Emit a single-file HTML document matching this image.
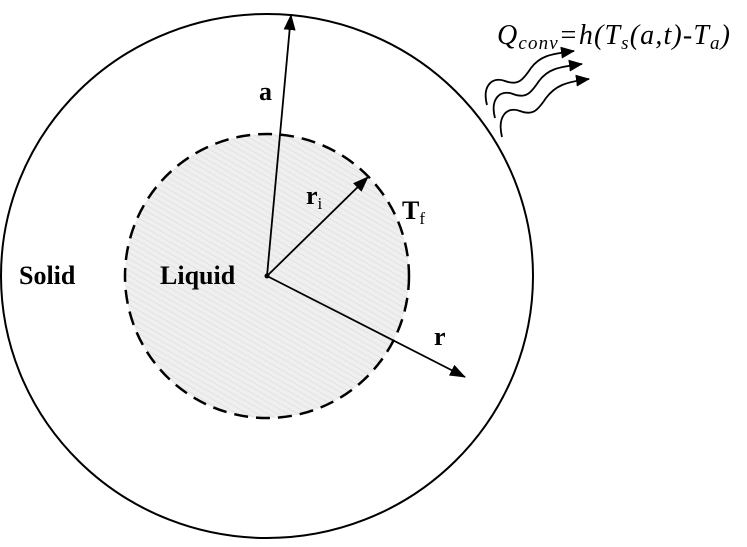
<!DOCTYPE html>
<html><head><style>
html,body{margin:0;padding:0;background:#fff;}
svg{display:block;}
</style></head><body>
<svg width="747" height="547" viewBox="0 0 747 547" xmlns="http://www.w3.org/2000/svg">
<defs>
<pattern id="hatch" width="5" height="5" patternUnits="userSpaceOnUse" patternTransform="rotate(-60)">
<rect width="5" height="5" fill="#efefef"/>
<line x1="0" y1="0" x2="0" y2="5" stroke="#dedede" stroke-width="1.5"/>
</pattern>
<marker id="ah" markerWidth="14" markerHeight="12" refX="13" refY="6" orient="auto" markerUnits="userSpaceOnUse">
<path d="M0,0 L14,6 L0,12 Z" fill="#000"/>
</marker>
<marker id="ah2" markerWidth="16" markerHeight="12" refX="15" refY="6" orient="auto" markerUnits="userSpaceOnUse">
<path d="M0,0 L16,6 L0,12 Z" fill="#000"/>
</marker>
</defs>
<ellipse cx="267" cy="276" rx="266" ry="262" fill="none" stroke="#000" stroke-width="2"/>
<circle cx="267" cy="276" r="142" fill="url(#hatch)" stroke="#000" stroke-width="2.5" stroke-dasharray="14,8"/>
<line x1="267" y1="276" x2="291" y2="15" stroke="#000" stroke-width="1.8" marker-end="url(#ah2)"/>
<line x1="267" y1="276" x2="368" y2="177" stroke="#000" stroke-width="1.8" marker-end="url(#ah2)"/>
<line x1="267" y1="276" x2="465" y2="377" stroke="#000" stroke-width="1.8" marker-end="url(#ah2)"/>
<circle cx="267" cy="276" r="2.5" fill="#000"/>
<g font-family="Liberation Serif, serif" font-weight="bold" font-size="26" fill="#000">
<text x="259" y="100">a</text>
<text x="19" y="284">Solid</text>
<text x="160" y="284">Liquid</text>
<text x="306" y="204">r<tspan font-size="17" font-weight="normal" dy="5">i</tspan></text>
<text x="402" y="219">T<tspan font-size="17" font-weight="normal" dy="5">f</tspan></text>
<text x="434" y="345">r</text>
</g>
<text x="497" y="44" textLength="233" lengthAdjust="spacing" font-family="Liberation Serif, serif" font-style="italic" font-size="28" fill="#000">Q<tspan font-size="19" dy="5">conv</tspan><tspan dy="-5">=h(T</tspan><tspan font-size="19" dy="5">s</tspan><tspan dy="-5">(a,t)-T</tspan><tspan font-size="19" dy="5">a</tspan><tspan dy="-5">)</tspan></text>
<g fill="none" stroke="#000" stroke-width="1.8">
<path d="M487,105 C482,86 492,76 505,81 C518,86 523,80 531,68 C540,56 550,54 574,51" marker-end="url(#ah)"/>
<path d="M495,118 C490,99 500,89 513,94 C526,99 531,93 539,81 C548,69 558,67 582,64" marker-end="url(#ah)"/>
<path d="M502,137 C497,116 507,106 520,111 C533,116 538,110 546,98 C555,86 565,82 589,79" marker-end="url(#ah)"/>
</g>
</svg>
</body></html>
